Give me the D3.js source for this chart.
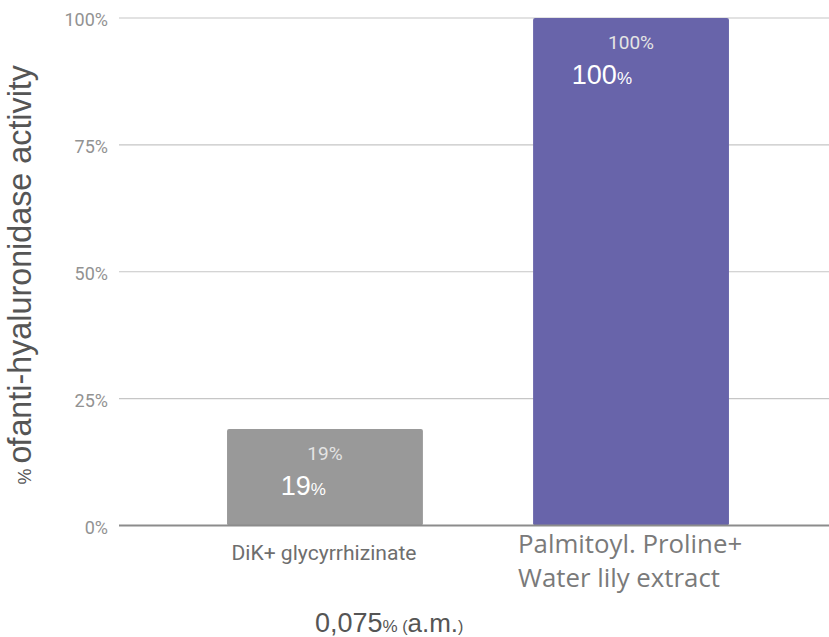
<!DOCTYPE html>
<html><head><meta charset="utf-8">
<script src="https://cdn.jsdelivr.net/npm/d3@7"></script>
<style>body{margin:0;background:#fff}svg{display:block}</style>
</head><body>
<svg id="c" width="829" height="637"></svg>
<script>
const categories = ["DiK+ glycyrrhizinate", "Palmitoyl. Proline+ Water lily extract"];
const categoryLines = [["DiK+ glycyrrhizinate"], ["Palmitoyl. Proline+", "Water lily extract"]];
const values = [0.19, 1.00];
const barLabels = ["19%", "100%"];
const bigLabelNums = ["19", "100"];
const yTicks = [0, 0.25, 0.5, 0.75, 1];
const yTickLabels = ["0%", "25%", "50%", "75%", "100%"];
const colors = ["#999999", "#6864aa"];

const svg = d3.select("#c");
const W = 829;
const y = d3.scaleLinear().domain([0, 1]).range([525.5, 18]);
const x = d3.scaleBand().domain(categories).range([119, 837]).paddingInner(0.36).paddingOuter(0.353);

// gridlines
svg.append("g").selectAll("line").data(yTicks.filter(d => d > 0)).join("line")
  .attr("x1", 119).attr("x2", W).attr("y1", d => y(d)).attr("y2", d => y(d))
  .attr("stroke", "#c6c6c6").attr("stroke-width", 1.2);

// y tick labels via axis
const yAxis = d3.axisLeft(y).tickValues(yTicks).tickFormat((d, i) => yTickLabels[i]).tickSize(0).tickPadding(11);
const ya = svg.append("g").attr("transform", "translate(119,0)").call(yAxis);
ya.select(".domain").remove();
ya.selectAll("text").attr("font-family", "Roboto, sans-serif").attr("font-size", 18)
  .attr("fill", "#929292").attr("dy", "0.42em");

// bars
svg.append("g").selectAll("rect").data(values).join("rect")
  .attr("x", (d, i) => x(categories[i])).attr("width", x.bandwidth())
  .attr("y", d => y(d)).attr("height", d => y(0) - y(d))
  .attr("rx", 2).attr("fill", (d, i) => colors[i]);

// baseline
svg.append("line").attr("x1", 119).attr("x2", W).attr("y1", y(0)).attr("y2", y(0))
  .attr("stroke", "#8c8c8c").attr("stroke-width", 2);

// small value labels
svg.append("g").selectAll("text").data(values).join("text")
  .attr("x", (d, i) => x(categories[i]) + x.bandwidth() / 2)
  .attr("y", d => y(d) + 31)
  .attr("text-anchor", "middle").attr("font-family", "Roboto, sans-serif").attr("font-size", 19)
  .attr("fill", "#e4e4e4").text((d, i) => barLabels[i]);

// big value labels
const big = svg.append("g").selectAll("text").data(values).join("text")
  .attr("x", (d, i) => x(categories[i]) + x.bandwidth() / 2 + 1)
  .attr("y", d => y(d) + 66)
  .attr("text-anchor", "end")
  .attr("font-family", "'Liberation Sans', Arial, sans-serif").attr("fill", "#ffffff");
big.append("tspan").attr("font-size", 27).text((d, i) => bigLabelNums[i]);
big.append("tspan").attr("font-size", 17).text("%");

// category labels
categoryLines.forEach((lines, i) => {
  const cx = x(categories[i]) + x.bandwidth() / 2;
  if (lines.length === 1) {
    svg.append("text").attr("x", cx - 1).attr("y", 560).attr("text-anchor", "middle")
      .attr("font-family", "Roboto, sans-serif").attr("font-size", 21).attr("fill", "#6e6e6e")
      .attr("textLength", 185).attr("lengthAdjust", "spacingAndGlyphs").text(lines[0]);
  } else {
    lines.forEach((l, j) => {
      svg.append("text").attr("x", x(categories[i]) - 15).attr("y", 553 + j * 34)
        .attr("font-family", "'Open Sans', sans-serif").attr("font-size", 25.8).attr("fill", "#7a7a7a")
        .text(l);
    });
  }
});

// x axis title
const xt = svg.append("text").attr("x", 315).attr("y", 632)
  .attr("font-family", "'Liberation Sans', Arial, sans-serif").attr("fill", "#555555");
xt.append("tspan").attr("font-size", 27).text("0,075");
xt.append("tspan").attr("font-size", 17).text("%");
xt.append("tspan").attr("font-size", 16).text(" (");
xt.append("tspan").attr("font-size", 26).text("a.m.");
xt.append("tspan").attr("font-size", 16).text(")");

// y axis title
const yt = svg.append("text").attr("transform", "translate(31,65) rotate(-90)")
  .attr("text-anchor", "end")
  .attr("font-family", "'Liberation Sans', Arial, sans-serif").attr("fill", "#555555");
yt.append("tspan").attr("font-size", 18).text("% ");
yt.append("tspan").attr("font-size", 32.3).attr("letter-spacing", -1).text("of");
yt.append("tspan").attr("font-size", 32.3).attr("dx", 2).text("anti-hyaluronidase activity");
</script>
</body></html>
